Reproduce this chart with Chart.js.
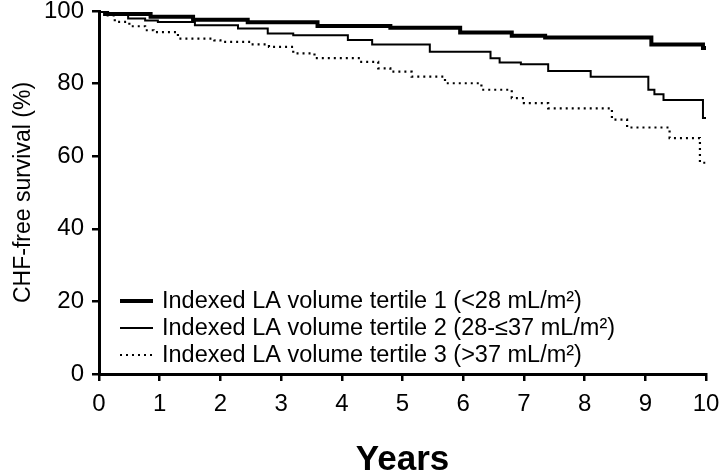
<!DOCTYPE html>
<html>
<head>
<meta charset="utf-8">
<script src="https://cdn.jsdelivr.net/npm/chart.js@4"></script>
<style>
  html, body { margin: 0; padding: 0; background: #fff; }
  #wrap { width: 720px; height: 476px; }
</style>
</head>
<body>
<div id="wrap"><canvas id="c" width="720" height="476"></canvas></div>
<script>
// Kaplan-Meier style step data (years, % CHF-free)
var t1Years = [0, 0.1, 0.85, 1.55, 2.45, 3.6, 4.8, 5.95, 6.8, 7.35, 9.1, 9.95, 10]
var t1Surv  = [100, 99.2, 98.4, 97.6, 96.9, 95.9, 95.4, 94.1, 93.2, 92.7, 90.8, 89.8, 89.8]

var t2Years = [0, 0.15, 0.48, 0.76, 0.97, 1.58, 2.29, 2.78, 3.2, 4.1, 4.5, 5.45, 6.45, 6.6, 6.95, 7.4, 8.1, 9.05, 9.15, 9.3, 9.95, 10]
var t2Surv  = [100, 99.2, 97.9, 97.4, 97.0, 96.1, 95.2, 93.8, 93.3, 92.0, 90.8, 88.8, 87.0, 85.8, 85.3, 83.5, 81.9, 78.3, 77.1, 75.5, 70.5, 70.5]

var t3Years = [0, 0.1, 0.26, 0.5, 0.76, 0.9, 1.3, 1.9, 2.0, 2.5, 2.8, 3.2, 3.55, 4.3, 4.6, 4.8, 5.15, 5.7, 6.3, 6.8, 7.0, 7.4, 8.45, 8.7, 9.4, 9.9, 10]
var t3Surv  = [100, 98.8, 97.0, 95.8, 94.7, 94.2, 92.4, 91.9, 91.5, 90.8, 90.1, 88.3, 87.0, 86.0, 84.2, 83.3, 81.9, 80.1, 78.3, 76.0, 74.6, 73.2, 70.1, 67.9, 65.0, 58.2, 58.2]

var seriesLabels = [
  'Indexed LA volume tertile 1 (<28 mL/m\u00B2)',
  'Indexed LA volume tertile 2 (28-\u226437 mL/m\u00B2)',
  'Indexed LA volume tertile 3 (>37 mL/m\u00B2)'
]
var xTicks = [0, 1, 2, 3, 4, 5, 6, 7, 8, 9, 10]
var yTicks = [0, 20, 40, 60, 80, 100]

function pts(xs, ys) {
  return xs.map(function (x, i) { return { x: x, y: ys[i] } })
}

var FONT = "'Liberation Sans', Arial, sans-serif"

// legend drawn inside the plot, lower left
var insideLegend = {
  id: 'insideLegend',
  afterDraw: function (chart) {
    var ctx = chart.ctx
    var ds = chart.data.datasets
    var x0 = 120, x1 = 153, tx = 162
    var rows = [301, 328, 355]
    ctx.save()
    ctx.font = '23.5px ' + FONT
    ctx.textBaseline = 'middle'
    ctx.fillStyle = '#000'
    ds.forEach(function (d, i) {
      ctx.beginPath()
      ctx.strokeStyle = '#000'
      ctx.lineWidth = d.borderWidth
      ctx.setLineDash(d.borderDash || [])
      ctx.moveTo(x0, rows[i])
      ctx.lineTo(x1, rows[i])
      ctx.stroke()
      ctx.setLineDash([])
      ctx.fillText(d.label, tx, rows[i] + 1)
    })
    ctx.restore()
  }
}

var chart = new Chart(document.getElementById('c'), {
  type: 'line',
  data: {
    datasets: [
      { label: seriesLabels[0], data: pts(t1Years, t1Surv), borderColor: '#000', borderWidth: 4, stepped: true, pointRadius: 0, fill: false },
      { label: seriesLabels[1], data: pts(t2Years, t2Surv), borderColor: '#000', borderWidth: 2, stepped: true, pointRadius: 0, fill: false },
      { label: seriesLabels[2], data: pts(t3Years, t3Surv), borderColor: '#000', borderWidth: 2.2, borderDash: [2, 4], stepped: true, pointRadius: 0, fill: false }
    ]
  },
  options: {
    responsive: false,
    animation: false,
    layout: { padding: { top: 11, right: 14, left: 0, bottom: 0 } },
    plugins: { legend: { display: false }, tooltip: { enabled: false } },
    scales: {
      x: {
        type: 'linear', min: 0, max: 10,
        afterBuildTicks: function (s) { s.ticks = xTicks.map(function (v) { return { value: v } }) },
        afterFit: function (s) { s.height = 102; s.paddingLeft = 0; s.paddingRight = 0 },
        grid: { drawOnChartArea: false, drawTicks: true, tickLength: 7, color: '#000', lineWidth: 2.5 },
        border: { color: '#000', width: 3 },
        ticks: { color: '#000', font: { family: FONT, size: 24 }, padding: 9, maxRotation: 0 },
        title: { display: true, text: 'Years', color: '#000', font: { family: FONT, size: 35, weight: 'bold', lineHeight: 0.9 }, padding: { top: 0, bottom: 0 } }
      },
      y: {
        min: 0, max: 100,
        afterBuildTicks: function (s) { s.ticks = yTicks.map(function (v) { return { value: v } }) },
        afterFit: function (s) { s.width = 99; s.paddingTop = 0; s.paddingBottom = 0 },
        grid: { drawOnChartArea: false, drawTicks: true, tickLength: 7, color: '#000', lineWidth: 2.5 },
        border: { color: '#000', width: 3 },
        ticks: { color: '#000', font: { family: FONT, size: 24 }, padding: 8 },
        title: { display: true, text: 'CHF-free survival (%)', color: '#000', font: { family: FONT, size: 23 }, padding: { top: 10, bottom: 0 } }
      }
    }
  },
  plugins: [insideLegend]
})
</script>
</body>
</html>
